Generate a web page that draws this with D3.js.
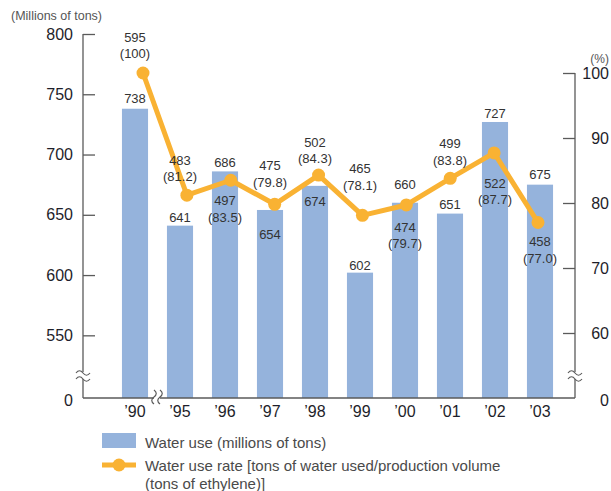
<!DOCTYPE html>
<html>
<head>
<meta charset="utf-8">
<script src="https://cdn.jsdelivr.net/npm/d3@7"></script>
<style>
  body { margin: 0; background: #fff; }
  text { font-family: "Liberation Sans", Arial, Helvetica, sans-serif; }
</style>
</head>
<body>
<div id="chart"></div>
<script>
var width = 611;
var height = 491;

// data ------------------------------------------------------------
var years = ["’90", "’95", "’96", "’97", "’98", "’99", "’00", "’01", "’02", "’03"];
var waterUse = [738, 641, 686, 654, 674, 602, 660, 651, 727, 675];
var production = [595, 483, 497, 475, 502, 465, 474, 499, 522, 458];
var useRate = [100, 81.2, 83.5, 79.8, 84.3, 78.1, 79.7, 83.8, 87.7, 77.0];
var leftTicks = [550, 600, 650, 700, 750, 800];
var rightTicks = [60, 70, 80, 90, 100];

// label placement (offsets in px, not data)
var barLabelDy = [-10, -8, -9, 24, 15, -7, -18, -9, -9, -10];
var lineLabelDy = [-36, -35, 20.5, -39, -33, -47, 22, -35, 30, 19];

var barColor = "#95b3dc";
var lineColor = "#f9b233";
var axisColor = "#5a5a5a";

var baseY = 398;

var x = d3.scaleBand()
  .domain(years)
  .range([112.5, 562.5])
  .paddingInner(0.42)
  .paddingOuter(0.21);

var xLine = d3.scalePoint()
  .domain(years)
  .range([143, 538]);

var yLeft = d3.scaleLinear()
  .domain([498, 800])
  .range([baseY, 34]);

var yRight = d3.scaleLinear()
  .domain([50, 100])
  .range([baseY, 73]);

var svg = d3.select("#chart")
  .append("svg")
  .attr("width", width)
  .attr("height", height);

// bars ------------------------------------------------------------
svg.append("g").selectAll("rect")
  .data(waterUse)
  .enter()
  .append("rect")
    .attr("x", function(d, i) { return x(years[i]); })
    .attr("y", function(d) { return yLeft(d); })
    .attr("width", x.bandwidth())
    .attr("height", function(d) { return baseY - yLeft(d); })
    .attr("fill", barColor);

// axes ------------------------------------------------------------
var leftAxis = svg.append("g")
  .attr("transform", "translate(83,0)")
  .call(d3.axisLeft(yLeft).tickValues(leftTicks).tickSizeInner(-12).tickSizeOuter(0).tickPadding(10));

var rightAxis = svg.append("g")
  .attr("transform", "translate(575,0)")
  .call(d3.axisRight(yRight).tickValues(rightTicks).tickSizeInner(-12).tickSizeOuter(0));

rightAxis.selectAll(".tick text")
  .attr("x", 34)
  .attr("text-anchor", "end");

[leftAxis, rightAxis].forEach(function(ax) {
  ax.select(".domain").attr("stroke", axisColor).attr("stroke-width", 1.3);
  ax.selectAll(".tick line").attr("stroke", axisColor).attr("stroke-width", 1.3);
  ax.selectAll(".tick text")
    .attr("fill", "#1e1e2a")
    .style("font-size", "16px");
});
leftAxis.select(".domain").attr("d", "M0," + baseY + "V34");
rightAxis.select(".domain").attr("d", "M0," + baseY + "V73");

// baseline
svg.append("line")
  .attr("x1", 83).attr("x2", 575)
  .attr("y1", baseY).attr("y2", baseY)
  .attr("stroke", axisColor)
  .attr("stroke-width", 1.5);

// zero labels
svg.append("text")
  .attr("x", 73).attr("y", baseY + 8)
  .attr("text-anchor", "end")
  .attr("fill", "#1e1e2a")
  .style("font-size", "16px")
  .text("0");
svg.append("text")
  .attr("x", 609).attr("y", baseY + 8)
  .attr("text-anchor", "end")
  .attr("fill", "#1e1e2a")
  .style("font-size", "16px")
  .text("0");

// units
svg.append("text")
  .attr("x", 11).attr("y", 20)
  .attr("fill", "#555")
  .style("font-size", "12.5px")
  .text("(Millions of tons)");
svg.append("text")
  .attr("x", 609).attr("y", 63)
  .attr("text-anchor", "end")
  .attr("fill", "#555")
  .style("font-size", "12px")
  .text("(%)");

// x labels
svg.append("g").selectAll("text")
  .data(years)
  .enter()
  .append("text")
    .attr("x", function(d) { return x(d) + x.bandwidth() / 2; })
    .attr("y", 417)
    .attr("text-anchor", "middle")
    .attr("fill", "#1e1e2a")
    .style("font-size", "16px")
    .text(function(d) { return d; });

// axis breaks -----------------------------------------------------
function tilde(cx, cy) {
  return "M" + (cx - 7) + "," + cy + " q3.5,-4.5 7,0 t7,0";
}
function vtilde(cx, cy) {
  return "M" + cx + "," + (cy - 7) + " q4.5,3.5 0,7 t0,7";
}
[83, 575].forEach(function(ax) {
  svg.append("rect")
    .attr("x", ax - 3).attr("y", 372)
    .attr("width", 6).attr("height", 7)
    .attr("fill", "#fff");
  svg.append("path").attr("d", tilde(ax, 373)).attr("fill", "none").attr("stroke", axisColor).attr("stroke-width", 1.2);
  svg.append("path").attr("d", tilde(ax, 379)).attr("fill", "none").attr("stroke", axisColor).attr("stroke-width", 1.2);
});
svg.append("rect")
  .attr("x", 154).attr("y", baseY - 3)
  .attr("width", 6).attr("height", 6)
  .attr("fill", "#fff");
svg.append("path").attr("d", vtilde(154, 397)).attr("fill", "none").attr("stroke", axisColor).attr("stroke-width", 1.2);
svg.append("path").attr("d", vtilde(160, 397)).attr("fill", "none").attr("stroke", axisColor).attr("stroke-width", 1.2);

// line ------------------------------------------------------------
var line = d3.line()
  .x(function(d, i) { return xLine(years[i]); })
  .y(function(d) { return yRight(d); });

svg.append("path")
  .datum(useRate)
  .attr("d", line)
  .attr("fill", "none")
  .attr("stroke", lineColor)
  .attr("stroke-width", 5)
  .attr("stroke-linejoin", "round");

svg.append("g").selectAll("circle")
  .data(useRate)
  .enter()
  .append("circle")
    .attr("cx", function(d, i) { return xLine(years[i]); })
    .attr("cy", function(d) { return yRight(d); })
    .attr("r", 6.5)
    .attr("fill", lineColor);

// value labels ----------------------------------------------------
var labels = svg.append("g")
  .attr("fill", "#333")
  .style("font-size", "13px")
  .attr("text-anchor", "middle");

labels.selectAll(".barLabel")
  .data(waterUse)
  .enter()
  .append("text")
    .attr("class", "barLabel")
    .attr("x", function(d, i) { return x(years[i]) + x.bandwidth() / 2; })
    .attr("y", function(d, i) { return yLeft(d) + barLabelDy[i] + 4.7; })
    .text(function(d) { return d; });

labels.selectAll(".prodLabel")
  .data(production)
  .enter()
  .append("text")
    .attr("class", "prodLabel")
    .attr("x", function(d, i) { return x(years[i]) + x.bandwidth() / 2; })
    .attr("y", function(d, i) { return yRight(useRate[i]) + lineLabelDy[i] + 4.7; })
    .text(function(d) { return d; });

labels.selectAll(".rateLabel")
  .data(useRate)
  .enter()
  .append("text")
    .attr("class", "rateLabel")
    .attr("x", function(d, i) { return x(years[i]) + x.bandwidth() / 2; })
    .attr("y", function(d, i) { return yRight(d) + lineLabelDy[i] + 16.5 + 4.7; })
    .text(function(d) { return "(" + (d === 100 ? "100" : d.toFixed(1)) + ")"; });

// legend ----------------------------------------------------------
var legend = svg.append("g")
  .style("font-size", "15px")
  .attr("fill", "#4a4a4a");

legend.append("rect")
  .attr("x", 102).attr("y", 433)
  .attr("width", 34).attr("height", 15)
  .attr("fill", barColor);
legend.append("text")
  .attr("x", 145).attr("y", 447.5)
  .text("Water use (millions of tons)");

legend.append("line")
  .attr("x1", 102).attr("x2", 136)
  .attr("y1", 465).attr("y2", 465)
  .attr("stroke", lineColor)
  .attr("stroke-width", 5);
legend.append("circle")
  .attr("cx", 119).attr("cy", 465)
  .attr("r", 6.5)
  .attr("fill", lineColor);
legend.append("text")
  .attr("x", 145).attr("y", 470.5)
  .text("Water use rate [tons of water used/production volume");
legend.append("text")
  .attr("x", 145).attr("y", 488.5)
  .text("(tons of ethylene)]");
</script>
</body>
</html>
